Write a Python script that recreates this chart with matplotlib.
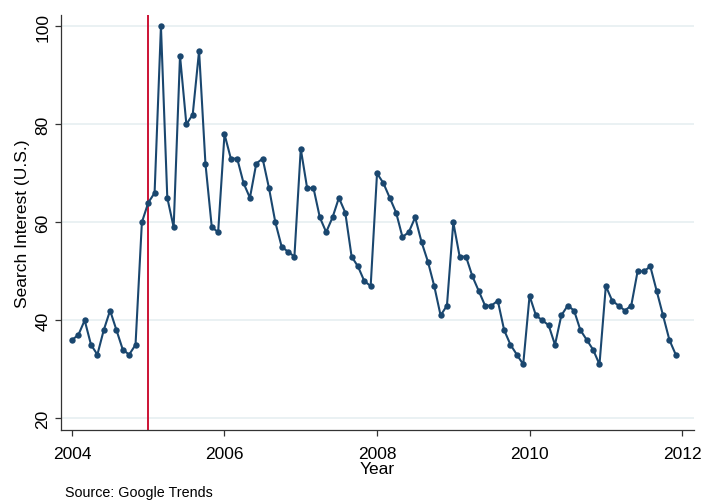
"""Google Trends search interest, monthly 2004-2011."""

import numpy as np
import matplotlib
matplotlib.use("Agg")
import matplotlib.pyplot as plt

plt.rcParams["font.family"] = ["Liberation Sans", "DejaVu Sans"]

# monthly search interest, one list per year (Jan..Dec)
years = [2004, 2005, 2006, 2007, 2008, 2009, 2010, 2011]
interest_2004 = [36, 37, 40, 35, 33, 38, 42, 38, 34, 33, 35, 60]
interest_2005 = [64, 66, 100, 65, 59, 94, 80, 82, 95, 72, 59, 58]
interest_2006 = [78, 73, 73, 68, 65, 72, 73, 67, 60, 55, 54, 53]
interest_2007 = [75, 67, 67, 61, 58, 61, 65, 62, 53, 51, 48, 47]
interest_2008 = [70, 68, 65, 62, 57, 58, 61, 56, 52, 47, 41, 43]
interest_2009 = [60, 53, 53, 49, 46, 43, 43, 44, 38, 35, 33, 31]
interest_2010 = [45, 41, 40, 39, 35, 41, 43, 42, 38, 36, 34, 31]
interest_2011 = [47, 44, 43, 42, 43, 50, 50, 51, 46, 41, 36, 33]

event_year = 2005
x_ticks = [2004, 2006, 2008, 2010, 2012]
y_ticks = [20, 40, 60, 80, 100]

NAVY = "#1a476f"
RED = "#cc1234"
GRID = "#e6eff1"

values = np.array(interest_2004 + interest_2005 + interest_2006 + interest_2007
                  + interest_2008 + interest_2009 + interest_2010 + interest_2011)
dates = years[0] + np.arange(len(values)) / 12.0

fig = plt.figure(figsize=(7.05, 5.02), dpi=100)
ax = fig.add_axes([0.0865, 0.142, 0.898, 0.826])

ax.axvline(event_year, color=RED, linewidth=1.4, zorder=2)
ax.plot(dates, values, color=NAVY, linewidth=1.5, marker="o",
        markersize=4.6, markeredgewidth=0, zorder=3)

ax.set_xlim(2003.856, 2012.157)
ax.set_ylim(17.67, 102.3)
ax.set_xticks(x_ticks)
ax.set_yticks(y_ticks)
ax.yaxis.grid(True, color=GRID, linewidth=1.2)
ax.set_axisbelow(True)

for side in ("top", "right"):
    ax.spines[side].set_visible(False)
for side in ("left", "bottom"):
    ax.spines[side].set_color("#333333")
    ax.spines[side].set_linewidth(0.9)

ax.tick_params(axis="both", direction="out", length=4.5, width=0.9,
               color="#333333", labelsize=12.5)
ax.tick_params(axis="x", pad=7)
ax.tick_params(axis="y", pad=3)
plt.setp(ax.get_yticklabels(), rotation=90, va="center")

ax.set_xlabel("Year", fontsize=12.5, labelpad=0)
ax.set_ylabel("Search Interest (U.S.)", fontsize=12.5, labelpad=4)

fig.text(0.092, 0.010, "Source: Google Trends", fontsize=10.3)

fig.savefig("out.png", dpi=100)
plt.close(fig)
